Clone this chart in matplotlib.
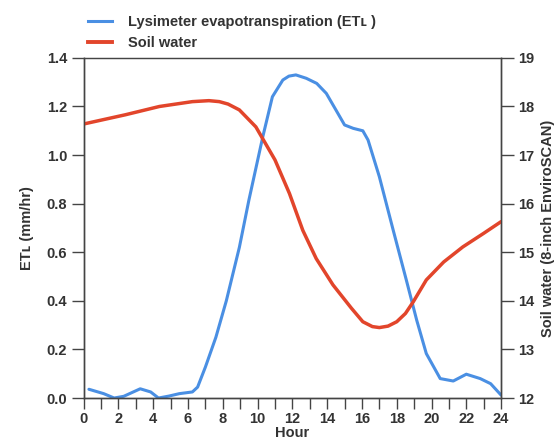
import matplotlib
matplotlib.use("Agg")
import matplotlib.pyplot as plt
from matplotlib.lines import Line2D

plt.rcParams['font.family'] = ['Liberation Sans', 'DejaVu Sans']
plt.rcParams['font.weight'] = 'bold'
plt.rcParams['axes.labelweight'] = 'bold'

# Lysimeter ET (left axis, mm/hr)
et_hours = [0.3, 1.15, 1.75, 2.3, 3.25, 3.85, 4.3, 4.9, 5.5, 6.25, 6.55, 7.0, 7.6, 8.2,
            8.95, 9.5, 10.3, 10.85, 11.45, 11.8, 12.2, 12.8, 13.4, 13.95, 14.5, 15.0,
            15.5, 16.05, 16.35, 17.0, 17.8, 18.55, 19.15, 19.7, 20.5, 21.25, 22.0,
            22.8, 23.4, 24.0]
et_values = [0.036, 0.018, 0.0, 0.007, 0.038, 0.025, 0.0, 0.008, 0.018, 0.025, 0.045,
             0.128, 0.25, 0.40, 0.62, 0.815, 1.076, 1.24, 1.309, 1.325, 1.330, 1.316,
             1.295, 1.254, 1.186, 1.124, 1.110, 1.10, 1.062, 0.911, 0.69, 0.486, 0.32,
             0.183, 0.08, 0.07, 0.098, 0.08, 0.059, 0.012]

# Soil water (right axis)
sw_hours = [0.0, 2.4, 4.35, 6.25, 7.2, 7.8, 8.3, 8.95, 9.9, 11.0, 11.83, 12.6, 13.37,
            14.33, 15.39, 16.05, 16.6, 17.0, 17.5, 18.0, 18.5, 18.95, 19.7, 20.7, 21.8,
            23.0, 24.0]
sw_values = [17.64, 17.83, 18.0, 18.1, 18.12, 18.10, 18.05, 17.93, 17.58, 16.90, 16.21,
             15.45, 14.87, 14.33, 13.85, 13.57, 13.47, 13.45, 13.48, 13.57, 13.74, 13.98,
             14.43, 14.80, 15.11, 15.39, 15.63]

hour_ticks = list(range(0, 25, 2))
et_ticks = [0.0, 0.2, 0.4, 0.6, 0.8, 1.0, 1.2, 1.4]
sw_ticks = [12, 13, 14, 15, 16, 17, 18, 19]

blue = '#4a8fe3'
red = '#e2452b'
axis_col = '#444444'
text_col = '#333333'
fs = 10.5

fig = plt.figure(figsize=(5.58, 4.42), dpi=100)
ax = fig.add_axes([0.150, 0.0995, 0.748, 0.7695])
ax2 = ax.twinx()

ax.plot(et_hours, et_values, color=blue, lw=2.2, solid_capstyle='round', solid_joinstyle='round')
ax2.plot(sw_hours, sw_values, color=red, lw=2.5, solid_capstyle='round', solid_joinstyle='round')

ax.set_xlim(0, 24)
ax.set_ylim(0, 1.4)
ax2.set_ylim(12, 19)
ax.set_xticks(range(0, 25))
ax.set_xticklabels([str(h) if h in hour_ticks else '' for h in range(0, 25)])
ax.set_yticks(et_ticks)
ax.set_yticklabels(['%.1f' % v for v in et_ticks])
ax2.set_yticks(sw_ticks)

for a in (ax, ax2):
    for s in a.spines.values():
        s.set_color(axis_col)
        s.set_linewidth(1.0)
    a.tick_params(colors=axis_col, labelcolor=text_col, labelsize=fs,
                  width=1.0, length=9, direction='out', pad=3)
ax.tick_params(axis='x', length=8, pad=2)
ax.spines['top'].set_color('#999999')
ax.spines['top'].set_linewidth(0.8)

ax.set_xlabel('Hour', fontsize=fs, color=text_col, labelpad=0)
ax.set_ylabel('ET\u029f (mm/hr)', fontsize=fs, color=text_col, labelpad=9)
ax2.set_ylabel('Soil water (8-inch EnviroSCAN)', fontsize=fs, color=text_col, labelpad=5)

handles = [Line2D([], [], color=blue, lw=2.2),
           Line2D([], [], color=red, lw=2.8)]
labels = ['Lysimeter evapotranspiration (ET\u029f )', 'Soil water']
fig.legend(handles, labels, loc='upper left', bbox_to_anchor=(0.135, 0.995),
           frameon=False, fontsize=fs, handlelength=1.6, handletextpad=1.1,
           labelspacing=0.45, labelcolor=text_col)

fig.savefig('out.png', dpi=100)
